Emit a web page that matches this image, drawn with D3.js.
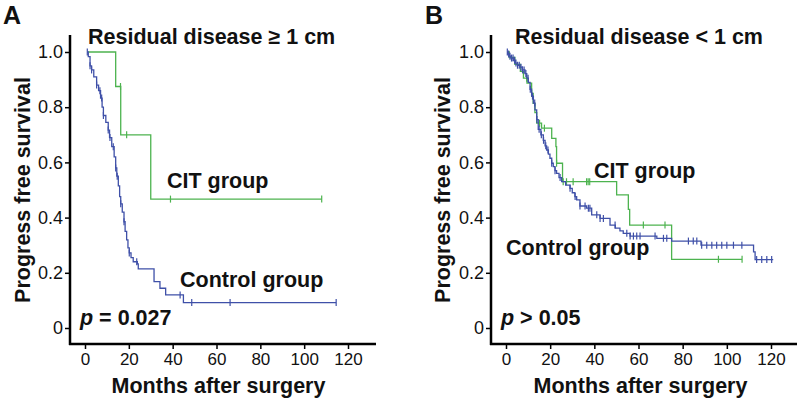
<!DOCTYPE html>
<html><head><meta charset="utf-8">
<script src="https://cdn.jsdelivr.net/npm/d3@7"></script>
<style>
html,body{margin:0;padding:0;background:#fff;}
svg{display:block;font-family:"Liberation Sans",Arial,sans-serif;}
</style></head>
<body>
<svg id="chart" width="800" height="401"></svg>
<script>
// ---------- DATA ----------
const monthTicks = [0, 20, 40, 60, 80, 100, 120];
const survTicks = [0, 0.2, 0.4, 0.6, 0.8, 1.0];

// Panel A: residual disease >= 1 cm
const aCitStart = 1.5, aCitEnd = 108;
const aCitEventT = [14, 16.3, 30];
const aCitEventS = [0.875, 0.70, 0.467];
const aCitCensor = [16.2, 19, 39, 108];

const aCtlStart = 1.0, aCtlEnd = 114.6;
const aCtlEventT = [1.5, 2.3, 3, 4, 5.3, 6.2, 7.1, 7.8, 8.4, 9.5, 10.6, 11.2, 12.2, 13.3, 14.0, 14.5, 15.2, 15.8, 16.3, 17.0, 17.8, 18.3, 19, 19.6, 20.2, 21, 22, 23.9, 24.3, 31.5, 34.2, 36.8, 44.9];
const aCtlEventS = [0.983, 0.95, 0.935, 0.91, 0.88, 0.86, 0.833, 0.80, 0.77, 0.745, 0.717, 0.69, 0.657, 0.62, 0.58, 0.55, 0.515, 0.476, 0.45, 0.42, 0.385, 0.35, 0.319, 0.29, 0.272, 0.255, 0.24, 0.232, 0.214, 0.168, 0.144, 0.12, 0.092];
const aCtlCensor = [1.05, 2.3, 3.0, 5.3, 6.8, 7.6, 8.4, 10.6, 11.4, 12.9, 14.0, 14.7, 16.3, 17.8, 20.2, 23.6, 43.4, 48.7, 66.2, 114.6];

// Panel B: residual disease < 1 cm
const bCitStart = 0.6, bCitEnd = 106.9;
const bCitEventT = [1.5, 4.0, 6.5, 7.9, 9.5, 11.6, 12.3, 13.1, 13.9, 16.1, 20.7, 22.6, 22.9, 25.6, 50.1, 55.4, 56.0, 75.0];
const bCitEventS = [0.98, 0.955, 0.93, 0.905, 0.887, 0.85, 0.814, 0.78, 0.742, 0.724, 0.687, 0.657, 0.597, 0.53, 0.482, 0.43, 0.373, 0.249];
const bCitCensor = [9.4, 11.6, 15.2, 17.4, 22.9, 25.9, 27.4, 30.4, 36.5, 37.2, 37.9, 62.2, 72, 96.2, 106.9];

const bCtlStart = 0.6, bCtlEnd = 121;
const bCtlEventT = [0.8, 1.5, 2.3, 3.3, 4.2, 5.2, 6.3, 7.4, 8.6, 9.4, 10.1, 10.9, 11.6, 12.4, 13.1, 13.9, 14.6, 15.8, 16.9, 17.7, 18.4, 19.2, 19.9, 20.7, 21.4, 22.2, 22.9, 24.0, 25.2, 27.0, 29.0, 30.0, 31.2, 32.0, 33.5, 36.5, 38.8, 42.6, 47.1, 49.5, 51.6, 53.1, 56.2, 68.3, 75, 88.3, 112.1, 112.8];
const bCtlEventS = [0.993, 0.985, 0.978, 0.97, 0.96, 0.952, 0.945, 0.935, 0.922, 0.905, 0.89, 0.865, 0.84, 0.815, 0.79, 0.755, 0.72, 0.70, 0.68, 0.66, 0.645, 0.63, 0.615, 0.597, 0.585, 0.57, 0.56, 0.545, 0.53, 0.518, 0.506, 0.49, 0.476, 0.464, 0.442, 0.434, 0.41, 0.397, 0.373, 0.362, 0.352, 0.343, 0.333, 0.325, 0.315, 0.30, 0.276, 0.248];
const bCtlCensor = [0.6, 1.2, 1.8, 2.5, 3.2, 3.9, 4.5, 5.2, 6.0, 6.8, 7.5, 8.2, 9.0, 10.0, 11.0, 12.0, 13.0, 14.0, 15.0, 16.0, 17.0, 18.0, 19.0, 20.7, 22.2, 24.5, 29.0, 31.3, 33.5, 35.8, 37.3, 38.0, 41.1, 42.6, 44.1, 49.4, 54.7, 56.2, 57.7, 59.2, 60.7, 67.5, 71.3, 72.8, 82.6, 84.8, 86.4, 88.6, 90.9, 93.2, 95.4, 97.7, 100, 103, 106.8, 113.5, 115.8, 118.1, 120.3];

// ---------- STYLE ----------
const green = "#4db34f";
const blue = "#3f50a8";
const boldFont = 21.5;

const svg = d3.select("#chart");

function stepAt(t, ts, ss) {
  let s = 1;
  for (let i = 0; i < ts.length; i++) { if (ts[i] <= t) s = ss[i]; else break; }
  return s;
}

function drawCurve(g, x, y, start, end, ts, ss, censor, color) {
  let d = `M${x(start)},${y(1)}`;
  for (let i = 0; i < ts.length; i++) d += `H${x(ts[i])}V${y(ss[i])}`;
  d += `H${x(end)}`;
  g.append("path").attr("d", d).attr("fill", "none").attr("stroke", color).attr("stroke-width", 1.3);
  g.selectAll(null).data(censor).enter().append("line")
    .attr("x1", t => x(t)).attr("x2", t => x(t))
    .attr("y1", t => y(stepAt(t, ts, ss)) - 3.5).attr("y2", t => y(stepAt(t, ts, ss)) + 3.5)
    .attr("stroke", color).attr("stroke-width", 1.2);
}

function panel(opt) {
  const g = svg.append("g");
  const x = d3.scaleLinear().domain([0, 120]).range([opt.x0, opt.x120]);
  const y = d3.scaleLinear().domain([0, 1]).range([328, 52]);

  // y axis ticks
  const ya = g.append("g").attr("transform", `translate(${opt.axisX},0)`)
    .call(d3.axisLeft(y).tickValues(survTicks).tickSize(5).tickPadding(2)
      .tickFormat(v => v === 0 ? "0" : d3.format(".1f")(v)));
  ya.select(".domain").remove();
  ya.selectAll("line").attr("stroke", "#000").attr("stroke-width", 1.5);
  ya.selectAll("text").attr("font-size", 18).attr("fill", "#111").attr("font-family", "Liberation Sans, Arial, sans-serif");

  // x axis ticks
  const xa = g.append("g").attr("transform", `translate(0,344)`)
    .call(d3.axisBottom(x).tickValues(monthTicks).tickSize(5).tickPadding(4));
  xa.select(".domain").remove();
  xa.selectAll("line").attr("stroke", "#000").attr("stroke-width", 1.5);
  xa.selectAll("text").attr("font-size", 17).attr("fill", "#111").attr("font-family", "Liberation Sans, Arial, sans-serif");

  // axis lines
  g.append("line").attr("x1", opt.axisX).attr("x2", opt.axisX).attr("y1", 35).attr("y2", 345)
    .attr("stroke", "#000").attr("stroke-width", 2.5);
  g.append("line").attr("x1", opt.axisX - 1).attr("x2", opt.axisEnd).attr("y1", 344).attr("y2", 344)
    .attr("stroke", "#000").attr("stroke-width", 2.5);

  // curves
  drawCurve(g, x, y, opt.cit.start, opt.cit.end, opt.cit.t, opt.cit.s, opt.cit.c, green);
  drawCurve(g, x, y, opt.ctl.start, opt.ctl.end, opt.ctl.t, opt.ctl.s, opt.ctl.c, blue);

  // texts
  const txt = (xx, yy, s, size, anchor) => g.append("text").attr("x", xx).attr("y", yy)
    .attr("font-size", size).attr("font-weight", "bold").attr("fill", "#111")
    .attr("text-anchor", anchor || "start").text(s);
  txt(opt.letterX, 24, opt.letter, 25);
  txt(opt.titleX, 44, opt.title, boldFont);
  txt(opt.citX, opt.citY, "CIT group", boldFont);
  txt(opt.ctlX, opt.ctlY, "Control group", boldFont);
  txt((opt.x0 + opt.x120) / 2 + 2, 393, "Months after surgery", boldFont, "middle");
  g.append("text").attr("transform", `translate(${opt.ylabX},190) rotate(-90)`)
    .attr("font-size", boldFont).attr("font-weight", "bold").attr("fill", "#111")
    .attr("text-anchor", "middle").text("Progress free survival");
  const p = g.append("text").attr("x", opt.pX).attr("y", 325).attr("font-size", boldFont)
    .attr("font-weight", "bold").attr("fill", "#111");
  p.append("tspan").attr("font-style", "italic").text("p");
  p.append("tspan").text(opt.pText);
}

panel({
  x0: 85, x120: 348, axisX: 70, axisEnd: 376,
  letter: "A", letterX: 3, title: "Residual disease \u2265 1 cm", titleX: 88,
  citX: 167, citY: 188, ctlX: 180, ctlY: 287, ylabX: 30, pX: 80, pText: " = 0.027",
  cit: {start: aCitStart, end: aCitEnd, t: aCitEventT, s: aCitEventS, c: aCitCensor},
  ctl: {start: aCtlStart, end: aCtlEnd, t: aCtlEventT, s: aCtlEventS, c: aCtlCensor}
});
panel({
  x0: 506, x120: 771, axisX: 491, axisEnd: 797,
  letter: "B", letterX: 425, title: "Residual disease < 1 cm", titleX: 515,
  citX: 594, citY: 178, ctlX: 506, ctlY: 255, ylabX: 450, pX: 501, pText: " > 0.05",
  cit: {start: bCitStart, end: bCitEnd, t: bCitEventT, s: bCitEventS, c: bCitCensor},
  ctl: {start: bCtlStart, end: bCtlEnd, t: bCtlEventT, s: bCtlEventS, c: bCtlCensor}
});
</script>
</body></html>
